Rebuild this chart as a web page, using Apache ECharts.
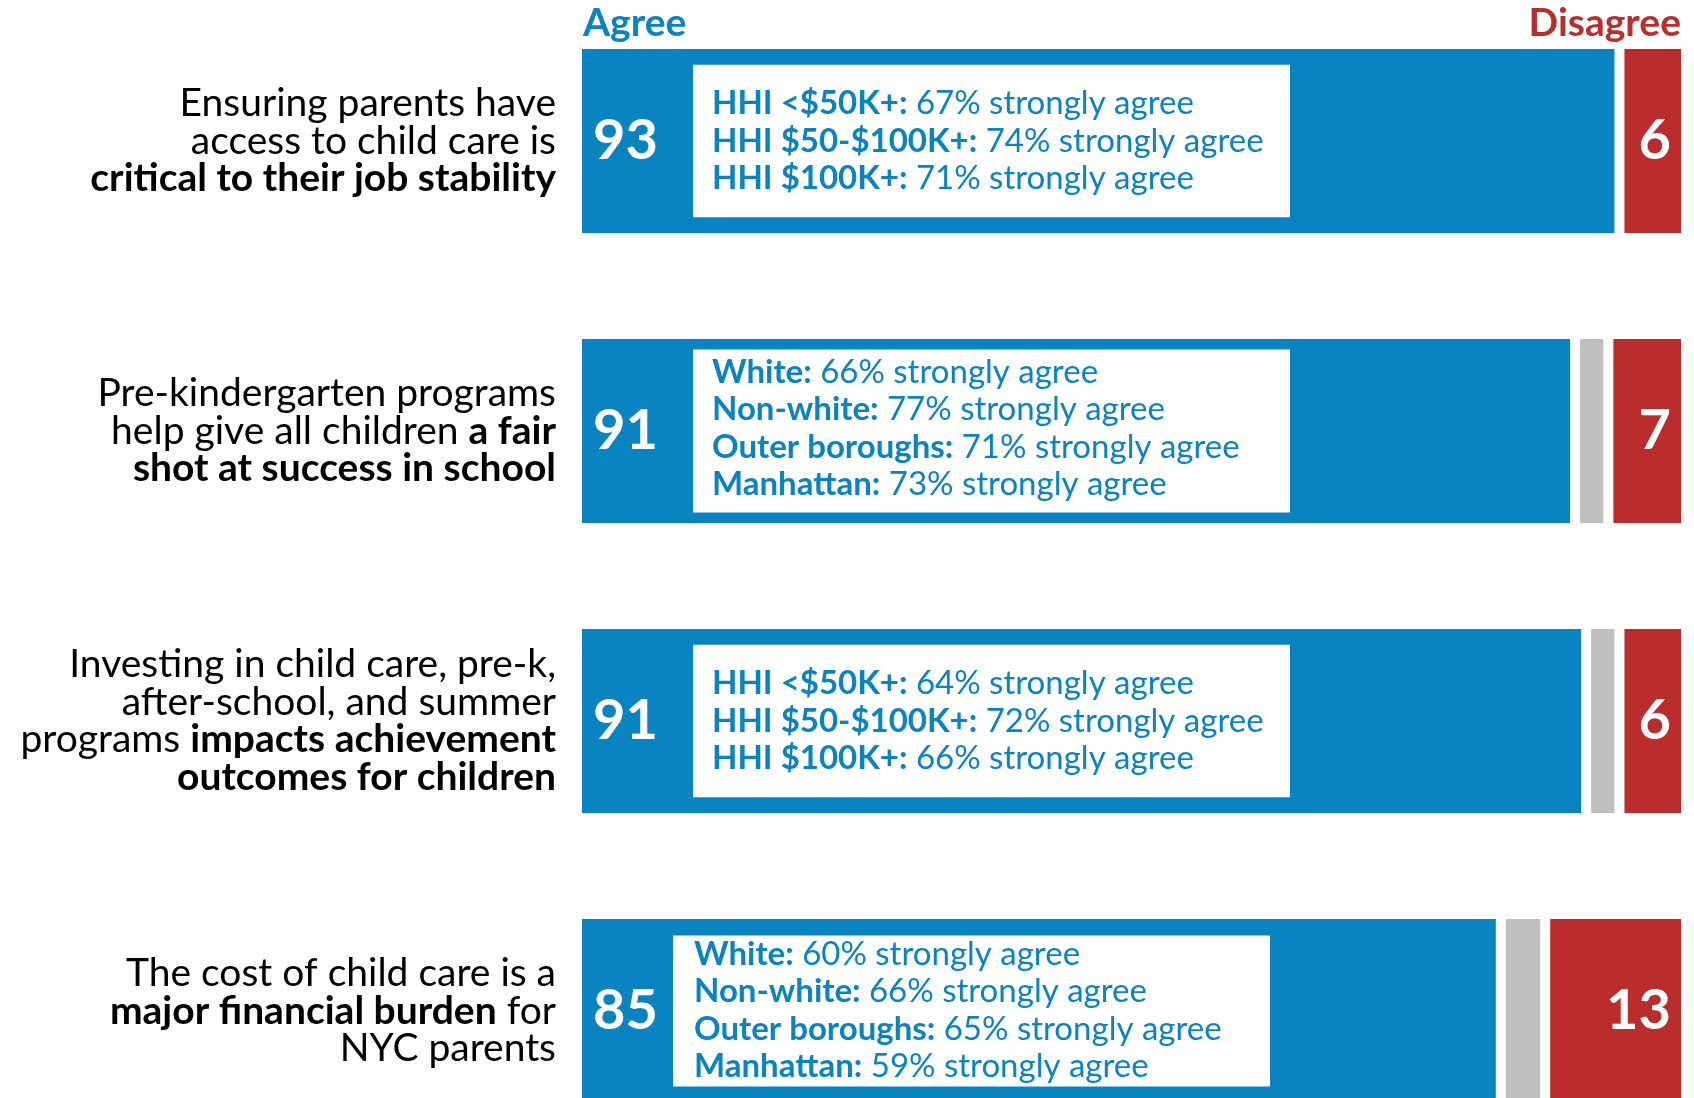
<!DOCTYPE html>
<html>
<head>
<meta charset="utf-8">
<title>NYC parents on child care</title>
<script src="https://cdn.jsdelivr.net/npm/echarts@6/dist/echarts.min.js"></script>
<style>
  html, body { margin: 0; padding: 0; background: #fff; }
  #chart { width: 1694px; height: 1098px; }
</style>
</head>
<body>
<div id="chart"></div>
<script>
// statements (rich text: {b|...} marks the bold part)
const statements = [
  'Ensuring parents have\naccess to child care is\n{b|critical to their job stability}',
  'Pre-kindergarten programs\nhelp give all children {b|a fair}\n{b|shot at success in school}',
  'Investing in child care, pre-k,\nafter-school, and summer\nprograms {b|impacts achievement}\n{b|outcomes for children}',
  'The cost of child care is a\n{b|major financial burden} for\nNYC parents'
];

// printed figures
const agreeLabel = [93, 91, 91, 85];
const disagreeLabel = [6, 7, 6, 13];

// bar lengths as they are drawn in the picture
const agreeBar = [94, 90, 91, 83.3];
const neitherBar = [0, 3, 3, 4];
const disagreeBar = [6, 7, 6, 12.7];

// subgroup notes: "% strongly agree"
const noteGroups = [
  ['HHI <$50K+', 'HHI $50-$100K+', 'HHI $100K+'],
  ['White', 'Non-white', 'Outer boroughs', 'Manhattan'],
  ['HHI <$50K+', 'HHI $50-$100K+', 'HHI $100K+'],
  ['White', 'Non-white', 'Outer boroughs', 'Manhattan']
];
const strongPct = [
  [67, 74, 71],
  [66, 77, 71, 73],
  [64, 72, 66],
  [60, 66, 65, 59]
];

const BLUE = '#0984c1';
const RED = '#bb2d2c';
const GRAY = '#bfbfbf';
const FONT = 'Lato, "Open Sans", sans-serif';

// note box layout per row (left offset from bar start, padding)
const boxLeft = [116, 116, 116, 96];
const boxPad = [[20, 0, 20, 19], [4, 0, 9, 19], [20, 0, 20, 19], [0, 0, 1, 21]];

var chartDom = document.getElementById('chart');
var myChart = echarts.init(chartDom);

// white border is drawn inside the bar -> 10px gap between segments
var segStyle = function (color) {
  return { color: color, borderColor: '#fff', borderWidth: 5 };
};

var noteData = agreeBar.map(function (v, i) {
  var text = noteGroups[i].map(function (g, k) {
    return '{b|' + g + ':}{n| ' + strongPct[i][k] + '% strongly agree}';
  }).join('\n');
  return {
    value: v,
    label: {
      formatter: text,
      offset: [boxLeft[i], 0],
      padding: boxPad[i],
      width: 597 - boxPad[i][3]
    }
  };
});

var option = {
  animation: false,
  textStyle: { fontFamily: FONT },
  title: [
    {
      text: 'Agree', left: 578, top: -1,
      textStyle: { color: BLUE, fontSize: 39, fontWeight: 'bold', fontFamily: FONT }
    },
    {
      text: 'Disagree', right: 8, top: -1,
      textStyle: { color: RED, fontSize: 39, fontWeight: 'bold', fontFamily: FONT }
    }
  ],
  grid: { left: 577, width: 1109, top: -4, height: 1160, containLabel: false, outerBoundsMode: 'none' },
  xAxis: { type: 'value', min: 0, max: 100, show: false },
  yAxis: {
    type: 'category',
    inverse: true,
    data: statements,
    axisLine: { show: false },
    axisTick: { show: false },
    axisLabel: {
      interval: 0,
      margin: 21,
      align: 'right',
      color: '#000',
      fontFamily: FONT,
      fontSize: 39,
      lineHeight: 37.5,
      rich: {
        b: { fontWeight: 'bold', fontSize: 39, lineHeight: 37.5, color: '#000', fontFamily: FONT, align: 'right' }
      }
    }
  },
  series: [
    {
      name: 'Agree', type: 'bar', stack: 'total', barWidth: 194, barGap: '-100%',
      data: agreeBar,
      itemStyle: segStyle(BLUE),
      label: {
        show: true, position: 'insideLeft', distance: 16,
        color: '#fff', fontSize: 56, fontWeight: 'bold', fontFamily: FONT,
        formatter: function (p) { return agreeLabel[p.dataIndex]; }
      }
    },
    {
      name: 'Neither', type: 'bar', stack: 'total', barWidth: 194, barGap: '-100%',
      data: neitherBar,
      itemStyle: segStyle(GRAY)
    },
    {
      name: 'Disagree', type: 'bar', stack: 'total', barWidth: 194, barGap: '-100%',
      data: disagreeBar,
      itemStyle: segStyle(RED),
      label: {
        show: true, position: 'insideRight', distance: 15,
        color: '#fff', fontSize: 56, fontWeight: 'bold', fontFamily: FONT,
        formatter: function (p) { return disagreeLabel[p.dataIndex]; }
      }
    },
    {
      name: 'Notes', type: 'bar', barWidth: 194, barGap: '-100%', z: 5,
      data: noteData,
      itemStyle: { color: 'rgba(0,0,0,0)' },
      label: {
        show: true, position: 'insideLeft', distance: 0,
        backgroundColor: '#fff',
        align: 'left',
        color: BLUE,
        fontSize: 33,
        fontFamily: FONT,
        lineHeight: 37.5,
        rich: {
          b: { fontWeight: 'bold', color: BLUE, fontSize: 33, lineHeight: 37.5, fontFamily: FONT },
          n: { color: BLUE, fontSize: 33, lineHeight: 37.5, fontFamily: FONT }
        }
      }
    }
  ]
};

option && myChart.setOption(option);
</script>
</body>
</html>
